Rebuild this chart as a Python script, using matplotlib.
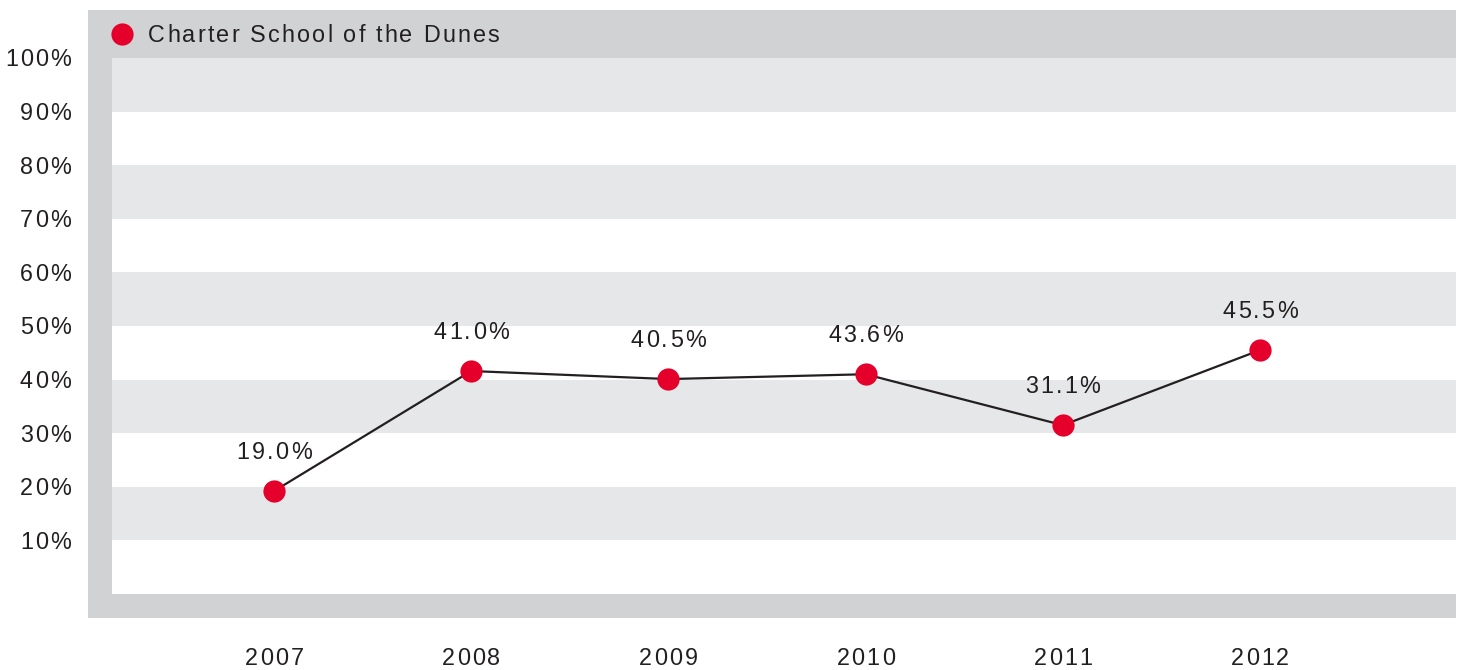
import matplotlib
matplotlib.use("Agg")
import matplotlib.pyplot as plt
import numpy as np
from matplotlib import font_manager
from matplotlib.ft2font import FT2Font

years = ["2007", "2008", "2009", "2010", "2011", "2012"]
# plotted positions
rates = [19.2, 41.6, 40.1, 41.0, 31.5, 45.5]
# printed labels
rate_labels = ["19.0%", "41.0%", "40.5%", "43.6%", "31.1%", "45.5%"]
series_name = "Charter School of the Dunes"
y_ticks = [10, 20, 30, 40, 50, 60, 70, 80, 90, 100]

RED = "#e4002b"
INK = "#231f20"
FRAME = "#d1d2d4"
STRIPE = "#e6e7e8"
FAMILY = "Liberation Sans"
FS = 16.8      # pt
TRACK = 1.6    # extra letter spacing, pt

plt.rcParams["font.family"] = [FAMILY, "DejaVu Sans"]
_font = FT2Font(font_manager.findfont(font_manager.FontProperties(family=FAMILY)))


def advance(ch, fs):
    _font.set_size(fs, 72)
    return _font.load_char(ord(ch)).linearHoriAdvance / 65536


def tracked(ax, s, xy, xycoords, ha="left", dy=0, fs=FS):
    """Text with letter spacing, vertically centred on xy (+dy points)."""
    adv = [advance(c, fs) for c in s]
    total = sum(adv) + TRACK * (len(s) - 1)
    x = {"left": 0, "center": -total / 2, "right": -total}[ha]
    base = dy - 0.358 * fs
    for c, a in zip(s, adv):
        if c != " ":
            ax.annotate(c, xy, xycoords=xycoords, xytext=(x, base),
                        textcoords="offset points", ha="left", va="baseline",
                        fontsize=fs, color=INK, annotation_clip=False)
        x += a + TRACK


W, H = 1461, 670
fig = plt.figure(figsize=(W / 100, H / 100), dpi=100)

# axes covers the whole grey frame (px 88..1456, 10..618)
ax = fig.add_axes([88 / W, (H - 618) / H, (1456 - 88) / W, (618 - 10) / H])
px_y = 10 / 53.6      # % per pixel
px_x = 1 / 197.2      # index per pixel
y_lo, y_hi = -24 * px_y, (594 - 10) * px_y
x_lo, x_hi = (88 - 274) * px_x, (1456 - 274) * px_x
ax.set_xlim(x_lo, x_hi)
ax.set_ylim(y_lo, y_hi)
ax.set_xticks([])
ax.set_yticks([])
for s in ax.spines.values():
    s.set_visible(False)

plot_left = (112 - 274) * px_x
ax.axhspan(100, y_hi, color=FRAME, lw=0, zorder=0)
ax.axhspan(y_lo, 0, color=FRAME, lw=0, zorder=0)
ax.axvspan(x_lo, plot_left, color=FRAME, lw=0, zorder=0)
for lo in range(10, 100, 20):
    ax.fill_between([plot_left, x_hi], lo, lo + 10, color=STRIPE, lw=0, zorder=0)

x = np.arange(len(years))
ax.plot(x, rates, color=INK, lw=1.6, zorder=2)
ax.plot(x, rates, "o", color=RED, ms=16, mec="none", zorder=3)
for xi, v, lab in zip(x, rates, rate_labels):
    tracked(ax, lab, (xi, v), "data", ha="center", dy=29)

# y labels, right edge near px 72
for t in y_ticks:
    tracked(ax, f"{t}%", (71, t), ("figure pixels", "data"), ha="right")

# year labels, centred at px y 657
for xi, yr in zip(x, years):
    tracked(ax, yr, (xi, H - 657), ("data", "figure pixels"), ha="center")

# legend inside the top band
leg_y = (594 - 34) * px_y
ax.plot([(122 - 274) * px_x], [leg_y], "o", color=RED, ms=16, mec="none",
        clip_on=False, zorder=3)
tracked(ax, series_name, ((148 - 274) * px_x, leg_y), "data")

fig.savefig("out.png", dpi=100)
